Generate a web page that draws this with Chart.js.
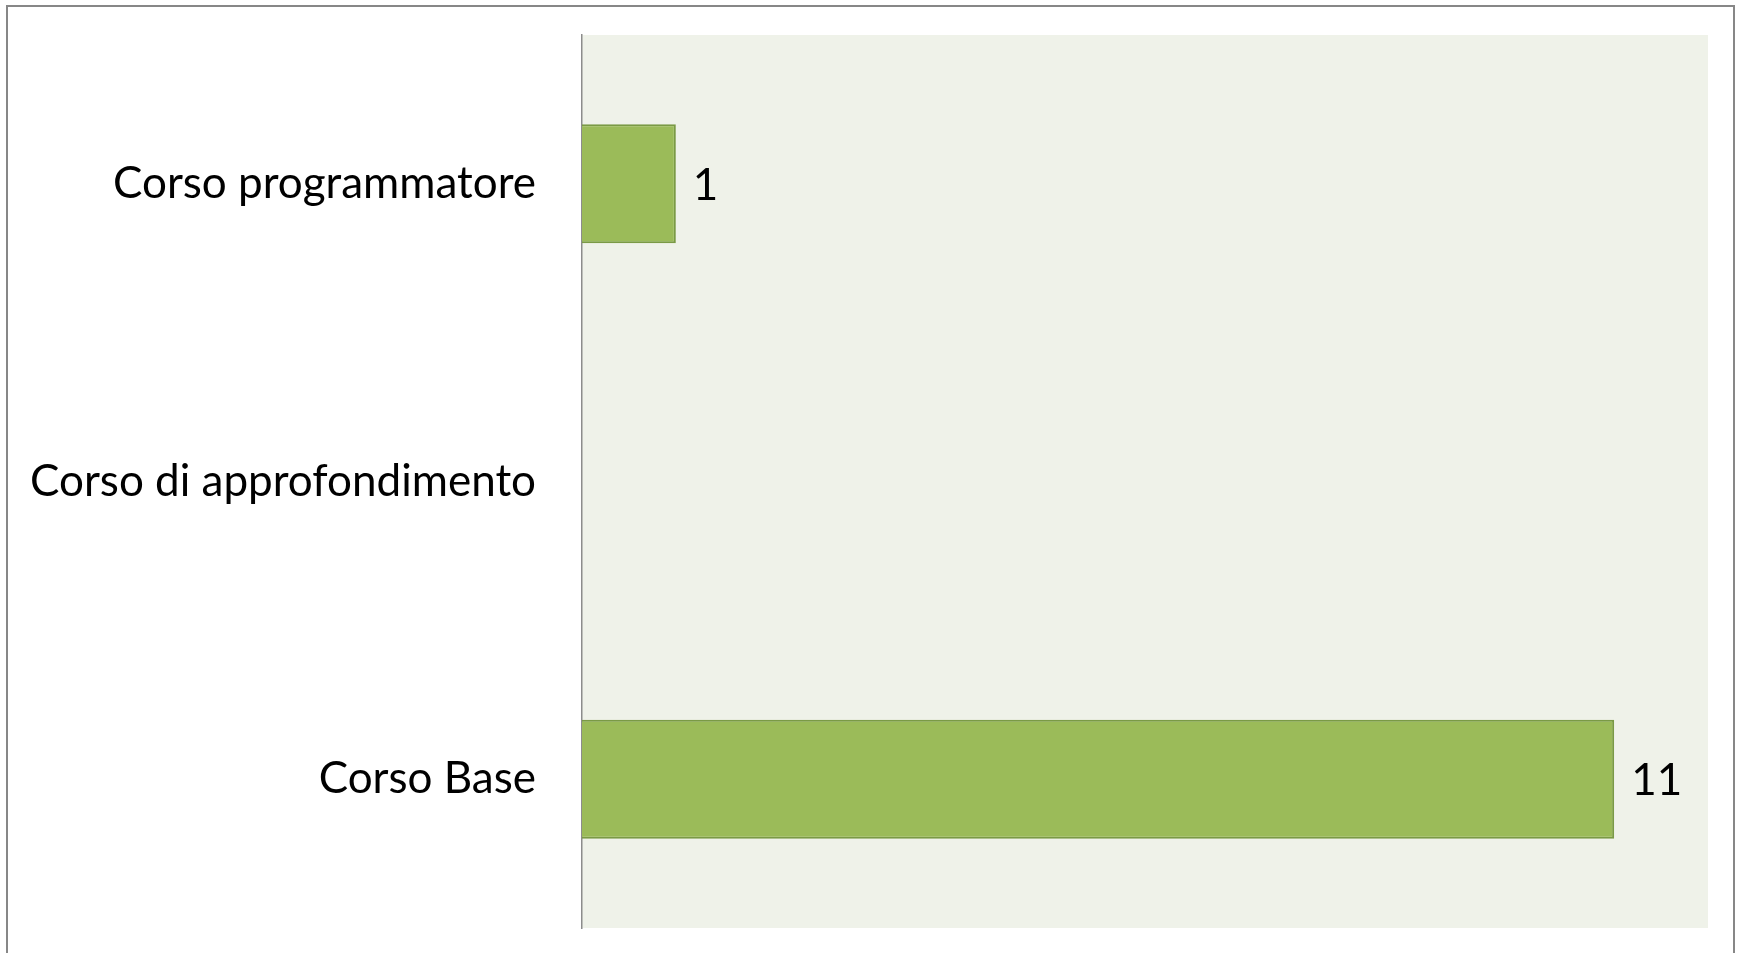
<!DOCTYPE html>
<html>
<head>
<meta charset="utf-8">
<script src="https://cdn.jsdelivr.net/npm/chart.js@4.4.1/dist/chart.umd.min.js"></script>
<style>
  html, body { margin: 0; padding: 0; background: #ffffff; overflow: hidden; }
  #wrap { position: relative; width: 1741px; height: 953px; }
  #frame { position: absolute; left: 6px; top: 5px; width: 1729px; height: 1000px; border: 2px solid #878787; box-sizing: border-box; }
  canvas { position: absolute; left: 0; top: 0; }
</style>
</head>
<body>
<div id="wrap">
  <div id="frame"></div>
  <canvas id="c" width="1741" height="953"></canvas>
</div>
<script>
const categories = ["Corso programmatore", "Corso di approfondimento", "Corso Base"];
const values = [1, null, 11];
const axisMax = 12;

const FONT_FAMILY = "Lato, 'Open Sans', sans-serif";
// size font so the category text width resembles the original (Calibri-like)
const mctx = document.createElement('canvas').getContext('2d');
mctx.font = "100px " + FONT_FAMILY;
const w100 = mctx.measureText("Corso programmatore").width;
const FONT_SIZE = Math.round(100 * 427 / w100);

const plotBg = {
  id: 'plotBg',
  beforeDraw(chart) {
    const { ctx, chartArea: a } = chart;
    ctx.save();
    ctx.fillStyle = '#EFF2E9';
    ctx.fillRect(a.left, a.top, a.right - a.left, a.bottom - a.top);
    ctx.restore();
  }
};

const valueLabels = {
  id: 'valueLabels',
  afterDatasetsDraw(chart) {
    const { ctx } = chart;
    const meta = chart.getDatasetMeta(0);
    ctx.save();
    ctx.font = FONT_SIZE + "px " + FONT_FAMILY;
    ctx.fillStyle = '#000000';
    ctx.textAlign = 'left';
    ctx.textBaseline = 'middle';
    meta.data.forEach((bar, i) => {
      const v = values[i];
      if (v === null || v === undefined) return;
      ctx.fillText(String(v), bar.x + 17, bar.y + 2);
    });
    ctx.restore();
  }
};

new Chart(document.getElementById('c'), {
  type: 'bar',
  data: {
    labels: categories,
    datasets: [{
      data: values,
      backgroundColor: '#9BBB59',
      borderColor: '#7A9A45',
      borderWidth: 2,
      borderSkipped: 'start',
      barPercentage: 0.4,
      categoryPercentage: 1.0
    }]
  },
  options: {
    indexAxis: 'y',
    responsive: false,
    animation: false,
    devicePixelRatio: 1,
    layout: { padding: { left: 0, right: 33, top: 35, bottom: 25 } },
    plugins: { legend: { display: false }, tooltip: { enabled: false } },
    scales: {
      x: {
        display: false,
        min: 0,
        max: axisMax,
        grid: { display: false }
      },
      y: {
        grid: { display: false, drawTicks: false },
        border: { display: true, color: '#8C8C8C', width: 1.5 },
        ticks: {
          color: '#000000',
          padding: 46,
          font: { family: FONT_FAMILY, size: FONT_SIZE }
        },
        afterFit(scale) {
          scale.width = 582;
          scale.paddingTop = 0;
          scale.paddingBottom = 0;
        }
      }
    }
  },
  plugins: [plotBg, valueLabels]
});
</script>
</body>
</html>
